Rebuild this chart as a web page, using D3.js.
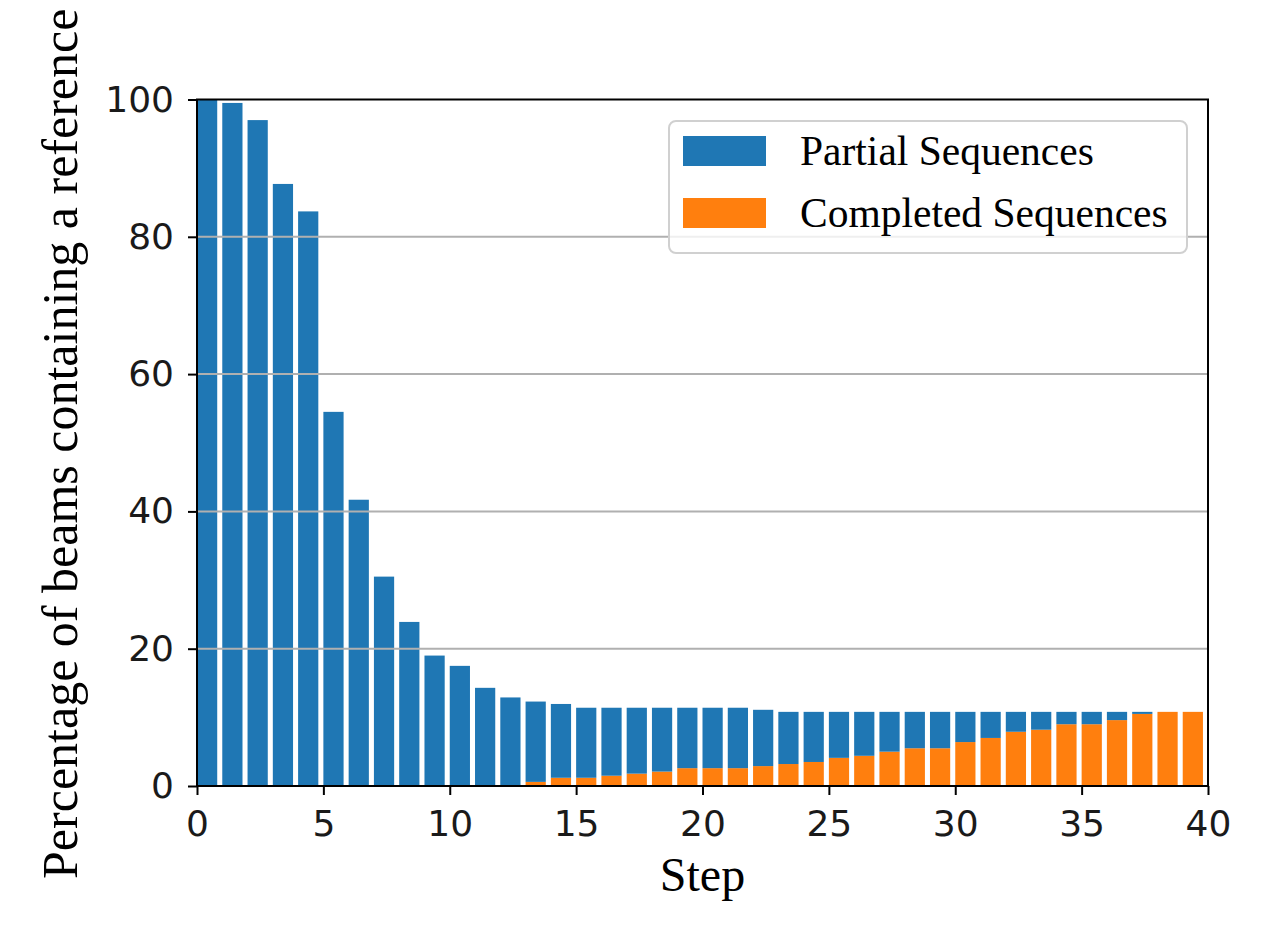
<!DOCTYPE html>
<html>
<head>
<meta charset="utf-8">
<script src="https://cdn.jsdelivr.net/npm/d3@7"></script>
<style>
  body { margin: 0; background: #fff; }
  svg { display: block; }
</style>
</head>
<body>
<div id="chart"></div>
<script>
// step index for every bar
var steps = d3.range(0, 40);

// percentage of beams holding the reference as a partial (unfinished) sequence
var partial = [100, 99.5, 97, 87.7, 83.7, 54.5, 41.7, 30.5, 23.9, 19.0,
    17.5, 14.3, 12.9, 11.7, 10.75, 10.2, 9.9, 9.6, 9.3, 8.8,
    8.8, 8.8, 8.2, 7.6, 7.3, 6.7, 6.4, 5.8, 5.3, 5.3,
    4.4, 3.8, 2.9, 2.6, 1.8, 1.8, 1.2, 0.3, 0, 0];

// percentage of beams holding the reference as a completed sequence
var completed = [0, 0, 0, 0, 0, 0, 0, 0, 0, 0,
    0, 0, 0, 0.6, 1.2, 1.2, 1.5, 1.8, 2.1, 2.6,
    2.6, 2.6, 2.9, 3.2, 3.5, 4.1, 4.4, 5.0, 5.5, 5.5,
    6.4, 7.0, 7.9, 8.2, 9.0, 9.0, 9.6, 10.5, 10.8, 10.8];

var xTicks = [0, 5, 10, 15, 20, 25, 30, 35, 40];
var yTicks = [0, 20, 40, 60, 80, 100];
var seriesNames = ["Partial Sequences", "Completed Sequences"];
var seriesColors = ["#1f77b4", "#ff7f0e"];

var svgWidth = 1270, svgHeight = 940;
var plotLeft = 197, plotRight = 1208, plotTop = 99.5, plotBottom = 786;
var barWidth = 0.8;

var svg = d3.select("#chart").append("svg")
    .attr("width", svgWidth)
    .attr("height", svgHeight);

var xScale = d3.scaleLinear()
    .domain([0, 40])
    .range([plotLeft, plotRight]);

var yScale = d3.scaleLinear()
    .domain([0, 100])
    .range([plotBottom, plotTop]);

// completed sequences sit on the axis, partial ones are stacked above them
var orangeBars = svg.append("g").selectAll("rect")
    .data(steps)
    .enter()
    .append("rect")
    .attr("x", function(d) { return xScale(d); })
    .attr("width", xScale(barWidth) - xScale(0))
    .attr("y", function(d, i) { return yScale(completed[i]); })
    .attr("height", function(d, i) { return yScale(0) - yScale(completed[i]); })
    .attr("fill", seriesColors[1]);

var blueBars = svg.append("g").selectAll("rect")
    .data(steps)
    .enter()
    .append("rect")
    .attr("x", function(d) { return xScale(d); })
    .attr("width", xScale(barWidth) - xScale(0))
    .attr("y", function(d, i) { return yScale(completed[i] + partial[i]); })
    .attr("height", function(d, i) { return yScale(completed[i]) - yScale(completed[i] + partial[i]); })
    .attr("fill", seriesColors[0]);

// horizontal grid, drawn over the bars like in the original
svg.append("g").selectAll("line")
    .data(yTicks.slice(1, -1))
    .enter()
    .append("line")
    .attr("x1", plotLeft)
    .attr("x2", plotRight)
    .attr("y1", function(d) { return yScale(d); })
    .attr("y2", function(d) { return yScale(d); })
    .attr("stroke", "#b0b0b0")
    .attr("stroke-width", 2);

// axes
var xAxis = d3.axisBottom(xScale)
    .tickValues(xTicks)
    .tickSize(9)
    .tickPadding(15)
    .tickSizeOuter(0);

var yAxis = d3.axisLeft(yScale)
    .tickValues(yTicks)
    .tickSize(9)
    .tickPadding(14)
    .tickSizeOuter(0);

var gx = svg.append("g")
    .attr("transform", "translate(0," + plotBottom + ")")
    .call(xAxis);

var gy = svg.append("g")
    .attr("transform", "translate(" + plotLeft + ",0)")
    .call(yAxis);

[gx, gy].forEach(function(g) {
    g.select(".domain").remove();
    g.selectAll(".tick line").attr("stroke", "#000").attr("stroke-width", 2);
    g.selectAll(".tick text")
        .attr("fill", "#1a1a1a")
        .style("font-family", "'DejaVu Sans', sans-serif")
        .style("font-size", "36px");
});

// frame
svg.append("rect")
    .attr("x", plotLeft)
    .attr("y", plotTop)
    .attr("width", plotRight - plotLeft)
    .attr("height", plotBottom - plotTop)
    .attr("fill", "none")
    .attr("stroke", "#000")
    .attr("stroke-width", 2);

// axis titles
svg.append("text")
    .text("Step")
    .attr("x", (plotLeft + plotRight) / 2)
    .attr("y", 891)
    .attr("text-anchor", "middle")
    .style("font-family", "'Liberation Serif', 'Times New Roman', serif")
    .style("font-size", "48px")
    .attr("fill", "#000");

svg.append("text")
    .text("Percentage of beams containing a reference")
    .attr("transform", "translate(77," + ((plotTop + plotBottom) / 2 + 1) + ") rotate(-90)")
    .attr("text-anchor", "middle")
    .style("font-family", "'Liberation Serif', 'Times New Roman', serif")
    .style("font-size", "50px")
    .attr("fill", "#000");

// legend
var legend = svg.append("g");

legend.append("rect")
    .attr("x", 669)
    .attr("y", 121)
    .attr("width", 518)
    .attr("height", 132)
    .attr("rx", 7)
    .attr("fill", "#fff")
    .attr("fill-opacity", 0.8)
    .attr("stroke", "#d0d0d0")
    .attr("stroke-width", 2);

var items = legend.selectAll("g.item")
    .data(seriesNames)
    .enter()
    .append("g")
    .attr("class", "item")
    .attr("transform", function(d, i) {
        return "translate(683," + (136 + i * 62) + ")";
    });

items.append("rect")
    .attr("width", 83)
    .attr("height", 30)
    .attr("fill", function(d, i) { return seriesColors[i]; });

items.append("text")
    .text(function(d) { return d; })
    .attr("x", 117)
    .attr("y", 29)
    .style("font-family", "'Liberation Serif', 'Times New Roman', serif")
    .style("font-size", "41.5px")
    .attr("fill", "#000");
</script>
</body>
</html>
